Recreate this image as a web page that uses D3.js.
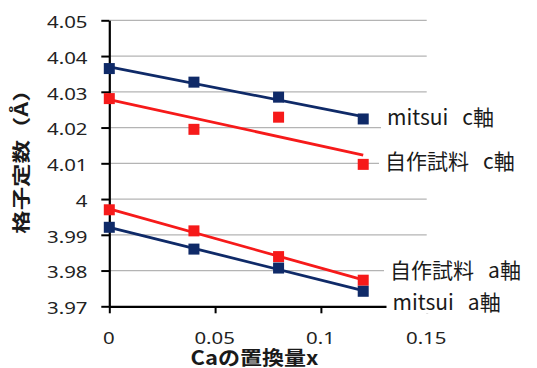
<!DOCTYPE html>
<html>
<head>
<meta charset="utf-8">
<script src="https://cdn.jsdelivr.net/npm/d3@7"></script>
<style>
  body { margin: 0; background: #fff; }
  svg { display: block; }
  .series-label { white-space: pre; }
</style>
</head>
<body>
<svg id="chart" width="537" height="368"></svg>
<script>
// Ca substitution amount x
const xValues = [0, 0.04, 0.08, 0.12];

// Lattice constants (Å)
const mitsuiC = [4.0365, 4.0327, 4.0285, 4.0224];
const selfC   = [4.0281, 4.0195, 4.0229, 4.0097];
const selfA   = [3.9970, 3.9911, 3.9839, 3.9773];
const mitsuiA = [3.9921, 3.9860, 3.9807, 3.9742];

const seriesNames = ["mitsui   c軸", "自作試料   c軸", "自作試料   a軸", "mitsui   a軸"];

const xTickValues = [0, 0.05, 0.1, 0.15];
const xTickLabels = ["0", "0.05", "0.1", "0.15"];
const yTickValues = [3.97, 3.98, 3.99, 4.00, 4.01, 4.02, 4.03, 4.04, 4.05];
const yTickLabels = ["3.97", "3.98", "3.99", "4", "4.01", "4.02", "4.03", "4.04", "4.05"];

const xTitle = "Caの置換量x";
const yTitle = "格子定数（Å）";

// ---- styling / layout ----
const NAVY = "#0f2a68";
const RED = "#f61a1a";
const seriesColors = [NAVY, RED, RED, NAVY];
const seriesValues = [mitsuiC, selfC, selfA, mitsuiA];
// vertical placement of each series label (in axis units) and its left edge (px)
const labelAt = [4.0231, 4.0108, 3.9803, 3.9716];
const labelLeft = [387, 385, 390, 392.5];

const svg = d3.select("#chart");
const W = 537, H = 368;
svg.append("rect").attr("width", W).attr("height", H).attr("fill", "#fff");

const x = d3.scaleLinear().domain([0, 0.15]).range([109.3, 426.7]);
const y = d3.scaleLinear().domain([3.97, 4.05]).range([306.3, 20.3]);

const latin = "'Noto Sans', 'Noto Sans CJK JP', sans-serif";
const cjk = "'Noto Sans CJK JP', 'Noto Sans', sans-serif";

// horizontal gridlines
svg.append("g")
  .selectAll("line")
  .data(yTickValues.filter(v => v > 3.97 + 1e-9))
  .join("line")
  .attr("x1", x(0)).attr("x2", x(0.15))
  .attr("y1", d => y(d)).attr("y2", d => y(d))
  .attr("stroke", "#b4b4b4").attr("stroke-width", 1.2);

// y axis
const yAxis = svg.append("g")
  .attr("transform", `translate(${x(0)},0)`)
  .call(d3.axisLeft(y).tickValues(yTickValues)
    .tickFormat((d, i) => yTickLabels[i]).tickSize(8).tickSizeOuter(0));
yAxis.select(".domain").attr("stroke", "#000").attr("stroke-width", 2.2);
yAxis.selectAll(".tick line").attr("stroke", "#000").attr("stroke-width", 2);
yAxis.selectAll(".tick text")
  .attr("x", 0).attr("dy", null)
  .attr("dominant-baseline", "central")
  .attr("transform", "translate(-21.8,0.6) scale(1.2,1)")
  .attr("text-anchor", "end")
  .attr("font-family", latin).attr("font-size", 17).attr("fill", "#222");

// x axis
const xAxis = svg.append("g")
  .attr("transform", `translate(0,${y(3.97)})`)
  .call(d3.axisBottom(x).tickValues(xTickValues)
    .tickFormat((d, i) => xTickLabels[i]).tickSize(7).tickSizeOuter(0));
xAxis.select(".domain").attr("stroke", "#000").attr("stroke-width", 2.2);
xAxis.selectAll(".tick line").attr("stroke", "#000").attr("stroke-width", 2);
xAxis.selectAll(".tick text")
  .attr("y", 0).attr("dy", null)
  .attr("dominant-baseline", "central")
  .attr("transform", "translate(-1,31) scale(1.2,1)")
  .attr("text-anchor", "middle")
  .attr("font-family", latin).attr("font-size", 17).attr("fill", "#222");

// least-squares trendline
function fit(xs, ys) {
  const mx = d3.mean(xs), my = d3.mean(ys);
  const sxy = d3.sum(xs, (v, i) => (v - mx) * (ys[i] - my));
  const sxx = d3.sum(xs, v => (v - mx) * (v - mx));
  const slope = sxy / sxx;
  return { slope, intercept: my - slope * mx };
}

const [x0, x1] = d3.extent(xValues);
const plot = svg.append("g");

seriesValues.forEach((vals, s) => {
  const f = fit(xValues, vals);
  plot.append("line")
    .attr("x1", x(x0)).attr("y1", y(f.intercept + f.slope * x0))
    .attr("x2", x(x1)).attr("y2", y(f.intercept + f.slope * x1))
    .attr("stroke", seriesColors[s]).attr("stroke-width", 2.8);
});

const M = 11;
seriesValues.forEach((vals, s) => {
  plot.append("g").selectAll("rect")
    .data(vals)
    .join("rect")
    .attr("x", (d, i) => x(xValues[i]) - M / 2)
    .attr("y", d => y(d) - M / 2)
    .attr("width", M).attr("height", M)
    .attr("fill", seriesColors[s]);
});

// series labels on white boxes
const labels = svg.append("g");
seriesNames.forEach((name, s) => {
  const g = labels.append("g");
  const box = g.append("rect").attr("fill", "#fff");
  const t = g.append("text")
    .attr("class", "series-label")
    .attr("x", labelLeft[s]).attr("y", y(labelAt[s]))
    .attr("dominant-baseline", "central")
    .attr("font-family", cjk).attr("font-size", 21).attr("fill", "#1a1a1a")
    .text(name);
  const bb = t.node().getBBox();
  box.attr("x", bb.x - 6).attr("y", y(labelAt[s]) - 13)
    .attr("width", bb.width + 10).attr("height", 26);
});

// axis titles
svg.append("text")
  .attr("transform", "translate(254.5,357) scale(1.13,1)")
  .attr("text-anchor", "middle").attr("dominant-baseline", "central")
  .attr("font-family", cjk).attr("font-weight", "bold").attr("font-size", 19.5)
  .attr("fill", "#1a1a1a")
  .text(xTitle);

svg.append("text")
  .attr("transform", "translate(20,156) rotate(-90) scale(1.3,1)")
  .attr("text-anchor", "middle").attr("dominant-baseline", "central")
  .attr("font-family", cjk).attr("font-weight", "bold").attr("font-size", 18)
  .attr("fill", "#1a1a1a")
  .text(yTitle);
</script>
</body>
</html>
